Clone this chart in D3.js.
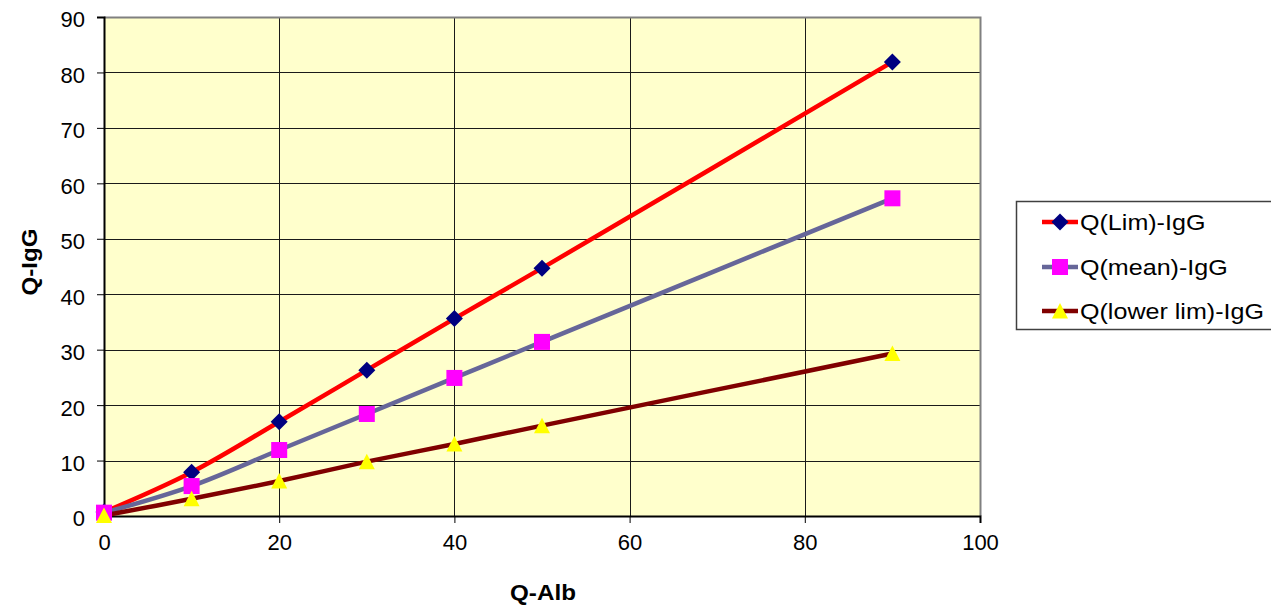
<!DOCTYPE html>
<html>
<head>
<meta charset="utf-8">
<script src="https://cdn.jsdelivr.net/npm/d3@7"></script>
<style>
  html, body { margin: 0; padding: 0; background: #ffffff; }
  svg { display: block; font-family: Arial, "Liberation Sans", sans-serif; }
</style>
</head>
<body>
<svg id="chart" width="1271" height="605"></svg>
<script>
// Q-Alb values (x) and the three IgG quotient curves
const qAlb = [0, 10, 20, 30, 40, 50, 90];
const qLimIgG = [0.7, 7.9, 17.0, 26.3, 35.6, 44.7, 81.9];
const qMeanIgG = [0.6, 5.4, 11.9, 18.4, 24.9, 31.4, 57.3];
const qLowerLimIgG = [0.1, 3.1, 6.3, 9.8, 13.0, 16.3, 29.3];

const seriesNames = ["Q(Lim)-IgG", "Q(mean)-IgG", "Q(lower lim)-IgG"];
const xTicks = [0, 20, 40, 60, 80, 100];
const yTicks = [0, 10, 20, 30, 40, 50, 60, 70, 80, 90];

const series = [
  { name: seriesNames[0], values: qLimIgG, line: "#ff0000", fill: "#000080", shape: "diamond" },
  { name: seriesNames[1], values: qMeanIgG, line: "#666699", fill: "#ff00ff", shape: "square" },
  { name: seriesNames[2], values: qLowerLimIgG, line: "#800000", fill: "#ffff00", shape: "triangle" }
];

const svg = d3.select("#chart");
const plot = { left: 104, right: 980, top: 17, bottom: 516 };

const x = d3.scaleLinear().domain([0, 100]).range([plot.left, plot.right]);
const y = d3.scaleLinear().domain([0, 90]).range([plot.bottom, plot.top]);

// widen glyphs a little for the chart's broad lettering
function widen(sel, k) {
  sel.each(function () {
    const w = this.getComputedTextLength();
    d3.select(this).attr("textLength", w * k).attr("lengthAdjust", "spacingAndGlyphs");
  });
}

// plot background
svg.append("rect")
  .attr("x", plot.left).attr("y", plot.top)
  .attr("width", plot.right - plot.left).attr("height", plot.bottom - plot.top)
  .attr("fill", "#ffffcc");

// gridlines
const grid = svg.append("g").attr("stroke", "#1a1a1a").attr("stroke-width", 1);
yTicks.filter(d => d > 0).forEach(d => {
  grid.append("line")
    .attr("x1", plot.left).attr("x2", plot.right)
    .attr("y1", Math.round(y(d)) + 0.5).attr("y2", Math.round(y(d)) + 0.5);
});
xTicks.filter(d => d > 0 && d < 100).forEach(d => {
  grid.append("line")
    .attr("y1", plot.top).attr("y2", plot.bottom)
    .attr("x1", Math.round(x(d)) + 0.5).attr("x2", Math.round(x(d)) + 0.5);
});

// plot frame (top and right edges)
svg.append("path")
  .attr("d", `M${plot.left},${plot.top + 0.5}H${plot.right + 0.5}V${plot.bottom}`)
  .attr("fill", "none").attr("stroke", "#808080").attr("stroke-width", 2);

// axes
const xAxis = d3.axisBottom(x).tickValues(xTicks).tickSize(7).tickPadding(11).tickFormat(d3.format("d"));
const yAxis = d3.axisLeft(y).tickValues(yTicks).tickSize(7).tickPadding(12).tickFormat(d3.format("d"));

const gx = svg.append("g").attr("transform", `translate(0,${plot.bottom})`).call(xAxis);
const gy = svg.append("g").attr("transform", `translate(${plot.left},0)`).call(yAxis);
[gx, gy].forEach(g => {
  g.select(".domain").attr("stroke", "#000").attr("stroke-width", 2);
  g.selectAll(".tick line").attr("stroke", "#000").attr("stroke-width", 1);
  g.selectAll(".tick text").attr("fill", "#000").attr("font-size", 22)
    .attr("font-family", "Arial, 'Liberation Sans', sans-serif");
});
gy.selectAll(".tick text").attr("dy", "0.45em");

// axis titles
const xTitle = svg.append("text")
  .attr("x", 543).attr("y", 600)
  .attr("text-anchor", "middle").attr("font-size", 22).attr("font-weight", "bold")
  .text("Q-Alb");
const yTitle = svg.append("text")
  .attr("transform", "translate(37,262) rotate(-90)")
  .attr("text-anchor", "middle").attr("font-size", 22).attr("font-weight", "bold")
  .text("Q-IgG");
widen(xTitle, 1.1);
widen(yTitle, 1.1);

// marker drawing
function marker(g, shape, fill, cx, cy) {
  if (shape === "diamond") {
    g.append("path")
      .attr("d", `M${cx},${cy - 8.5}L${cx + 8.5},${cy}L${cx},${cy + 8.5}L${cx - 8.5},${cy}Z`)
      .attr("fill", fill);
  } else if (shape === "square") {
    g.append("rect").attr("x", cx - 8).attr("y", cy - 8).attr("width", 16).attr("height", 16)
      .attr("fill", fill);
  } else {
    g.append("path")
      .attr("d", `M${cx},${cy - 8}L${cx + 8},${cy + 7.5}L${cx - 8},${cy + 7.5}Z`)
      .attr("fill", fill);
  }
}

const lineGen = d3.line()
  .x(d => x(d[0])).y(d => y(d[1]))
  .curve(d3.curveCatmullRom.alpha(0.5));

series.forEach(s => {
  const pts = qAlb.map((a, i) => [a, s.values[i]]);
  svg.append("path").datum(pts)
    .attr("d", lineGen)
    .attr("fill", "none").attr("stroke", s.line).attr("stroke-width", 4.5);
});
series.forEach(s => {
  const g = svg.append("g");
  qAlb.forEach((a, i) => marker(g, s.shape, s.fill, x(a), y(s.values[i])));
});

// legend
const legend = svg.append("g");
legend.append("rect")
  .attr("x", 1016.5).attr("y", 201.5).attr("width", 270).attr("height", 128)
  .attr("fill", "#ffffff").attr("stroke", "#404040").attr("stroke-width", 1.5);
const rowY = [222, 267, 311];
series.forEach((s, i) => {
  legend.append("line")
    .attr("x1", 1042).attr("x2", 1078).attr("y1", rowY[i]).attr("y2", rowY[i])
    .attr("stroke", s.line).attr("stroke-width", 4.5);
  marker(legend, s.shape, s.fill, 1060, rowY[i]);
  const t = legend.append("text")
    .attr("x", 1080).attr("y", rowY[i]).attr("dy", "0.36em")
    .attr("font-size", 22).attr("fill", "#000")
    .text(s.name);
  widen(t, 1.14);
});
</script>
</body>
</html>
